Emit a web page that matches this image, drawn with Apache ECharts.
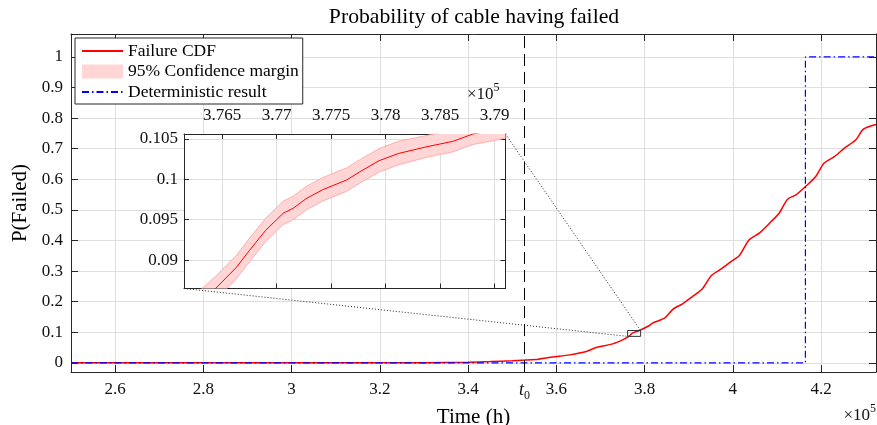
<!DOCTYPE html>
<html><head><meta charset="utf-8">
<script src="https://cdn.jsdelivr.net/npm/echarts@6/dist/echarts.min.js"></script>
<style>html,body{margin:0;padding:0;background:#fff}#c{width:877px;height:425px}</style>
</head><body><div id="c"></div>
<script>
// ---- data (time in hours) ----
const cdfTime = [250000, 300000, 330000, 340000, 345000, 350000, 352800, 356000, 359200, 363000, 366800, 369000, 372800, 375000, 376440, 377300, 378800, 381100, 381800, 384500, 386400, 388600, 390900, 393200, 395100, 397300, 399600, 401500, 403700, 406000, 408700, 410500, 412400, 414300, 416600, 418800, 420700, 423000, 425300, 427900, 429600, 432450];
const cdfValue = [0, 0, 0.0005, 0.002, 0.004, 0.007, 0.009, 0.012, 0.019, 0.026, 0.037, 0.050, 0.062, 0.075, 0.0865, 0.0976, 0.1056, 0.122, 0.130, 0.146, 0.175, 0.193, 0.217, 0.244, 0.285, 0.306, 0.331, 0.351, 0.402, 0.424, 0.462, 0.489, 0.535, 0.549, 0.578, 0.609, 0.653, 0.674, 0.702, 0.729, 0.764, 0.779];

const insetTime  = [376100, 376300, 376440, 376630, 376750, 376900, 377060, 377150, 377270, 377420, 377640, 377760, 377940, 378120, 378370, 378620, 378800, 379000, 379200];
const insetValue = [0.0830, 0.0848, 0.0865, 0.0891, 0.0912, 0.0937, 0.0958, 0.0964, 0.0976, 0.0987, 0.0999, 0.1009, 0.1023, 0.1032, 0.1040, 0.1047, 0.1056, 0.1061, 0.1067];
const insetLower = [0.0815, 0.0834, 0.0851, 0.0877, 0.0898, 0.0923, 0.0944, 0.0950, 0.0962, 0.0973, 0.0985, 0.0995, 0.1009, 0.1018, 0.1027, 0.1034, 0.1043, 0.1048, 0.1054];
const insetUpper = [0.0845, 0.0863, 0.0880, 0.0906, 0.0927, 0.0952, 0.0973, 0.0979, 0.0991, 0.1002, 0.1014, 0.1024, 0.1038, 0.1047, 0.1054, 0.1061, 0.1070, 0.1075, 0.1081];

const detTime  = [250000, 416450, 416450, 432450];
const detValue = [0, 0, 1, 1];
const t0 = 352800;

const mainXTicks = [260000, 280000, 300000, 320000, 340000, 360000, 380000, 400000, 420000];
const mainYTicks = [0, 0.1, 0.2, 0.3, 0.4, 0.5, 0.6, 0.7, 0.8, 0.9, 1];
const insetXTicks = [376500, 377000, 377500, 378000, 378500, 379000];
const insetYTicks = [0.09, 0.095, 0.1, 0.105];
const mainXRange = [250000, 432450];
const mainYRange = [-0.03, 1.075];
const insetXRange = [376150, 379100];
const insetYRange = [0.0865, 0.1056];

// ---- styling ----
const FONT = 'Liberation Serif';
const AX = '#262626';
const GRIDC = '#dedede';
const BAND = '#ffd5d5';
const BANDEDGE = '#ff9f9f';
const zip = (a, b) => a.map((v, i) => [v, b[i]]);
const num = (v, d) => String(parseFloat(v.toFixed(d)));

const chart = echarts.init(document.getElementById('c'), null, {renderer: 'canvas'});

const axLine = {show: true, onZero: false, lineStyle: {color: AX, width: 1}};
const tickStyle = {color: AX, width: 1};
const labStyle = {color: '#111', fontFamily: FONT, fontSize: 17};
const noSym = {color: 'rgba(0,0,0,0)', borderWidth: 0};
const sup = {a: {fontFamily: FONT, fontSize: 17, lineHeight: 17, verticalAlign: 'bottom', fill: '#111'},
             b: {fontFamily: FONT, fontSize: 12, lineHeight: 12, verticalAlign: 'bottom', fill: '#111', padding: [0, 0, 9, 0]}};

const option = {
  animation: false,
  backgroundColor: '#fff',
  title: {
    text: 'Probability of cable having failed',
    left: 469, top: 1, textAlign: 'center',
    textStyle: {fontFamily: FONT, fontSize: 21.7, fontWeight: 'normal', color: '#000'}
  },
  legend: {
    orient: 'vertical', left: 75, top: 38,
    padding: [4, 4, 3, 6], itemGap: 2.5, itemWidth: 41, itemHeight: 14,
    backgroundColor: '#fff', borderColor: AX, borderWidth: 1, borderRadius: 0,
    textStyle: {fontFamily: FONT, fontSize: 17.5, color: '#000', lineHeight: 18},
    data: [
      {name: 'Failure CDF', itemStyle: noSym},
      {name: '95% Confidence margin', icon: 'rect', itemStyle: {color: BAND}},
      {name: 'Deterministic result', itemStyle: noSym}
    ],
    selectedMode: false, z: 10
  },
  grid: [
    {left: 71, top: 34, right: 1, bottom: 53, show: false, containLabel: false, outerBoundsMode: 'none'},
    {left: 184, top: 134, width: 321.5, height: 154.5, show: true, backgroundColor: '#fff', borderWidth: 0, z: 3,
      containLabel: false, outerBoundsMode: 'none'}
  ],
  xAxis: [
    {gridIndex: 0, type: 'value', position: 'bottom', min: mainXRange[0], max: mainXRange[1],
      axisLine: axLine,
      axisTick: {inside: true, length: 7, lineStyle: tickStyle, customValues: mainXTicks.concat([t0])},
      axisLabel: {customValues: mainXTicks.concat([t0]), margin: 9, ...labStyle,
        formatter: v => (Math.abs(v - t0) < 1 ? '{i|t}{s|0}' : num(v / 1e5, 3)),
        rich: {i: {fontFamily: FONT, fontStyle: 'italic', fontSize: 18, lineHeight: 18, verticalAlign: 'top', color: '#111'},
               s: {fontFamily: FONT, fontSize: 12, lineHeight: 12, verticalAlign: 'top', color: '#111', padding: [9, 0, 0, 0]}}},
      splitLine: {show: false},
      name: 'Time (h)', nameLocation: 'middle', nameGap: 27,
      nameTextStyle: {fontFamily: FONT, fontSize: 21, color: '#000'}},
    {gridIndex: 0, type: 'value', position: 'top', min: mainXRange[0], max: mainXRange[1],
      axisLine: axLine,
      axisTick: {inside: true, length: 7, lineStyle: tickStyle, customValues: mainXTicks},
      axisLabel: {show: false, customValues: mainXTicks},
      splitLine: {show: true, lineStyle: {color: GRIDC, width: 1}}},
    {gridIndex: 1, type: 'value', position: 'top', min: insetXRange[0], max: insetXRange[1], z: 4,
      axisLine: axLine,
      axisTick: {inside: true, length: 5, lineStyle: tickStyle, customValues: insetXTicks},
      axisLabel: {customValues: insetXTicks, margin: 10, ...labStyle, formatter: v => num(v / 1e5, 4)},
      splitLine: {show: true, lineStyle: {color: GRIDC, width: 1}}},
    {gridIndex: 1, type: 'value', position: 'bottom', min: insetXRange[0], max: insetXRange[1], z: 4,
      axisLine: axLine,
      axisTick: {inside: true, length: 5, lineStyle: tickStyle, customValues: insetXTicks},
      axisLabel: {show: false, customValues: insetXTicks},
      splitLine: {show: false}}
  ],
  yAxis: [
    {gridIndex: 0, type: 'value', position: 'left', min: mainYRange[0], max: mainYRange[1],
      axisLine: axLine,
      axisTick: {inside: true, length: 7, lineStyle: tickStyle, customValues: mainYTicks},
      axisLabel: {customValues: mainYTicks, margin: 8, ...labStyle, formatter: v => num(v, 2)},
      splitLine: {show: true, lineStyle: {color: GRIDC, width: 1}},
      name: 'P(Failed)', nameLocation: 'middle', nameGap: 33,
      nameTextStyle: {fontFamily: FONT, fontSize: 21, color: '#000'}},
    {gridIndex: 0, type: 'value', position: 'right', min: mainYRange[0], max: mainYRange[1],
      axisLine: axLine,
      axisTick: {inside: true, length: 7, lineStyle: tickStyle, customValues: mainYTicks},
      axisLabel: {show: false, customValues: mainYTicks},
      splitLine: {show: false}},
    {gridIndex: 1, type: 'value', position: 'left', min: insetYRange[0], max: insetYRange[1], z: 4,
      axisLine: axLine,
      axisTick: {inside: true, length: 5, lineStyle: tickStyle, customValues: insetYTicks},
      axisLabel: {customValues: insetYTicks, margin: 6, ...labStyle, formatter: v => num(v, 4)},
      splitLine: {show: true, lineStyle: {color: GRIDC, width: 1}}},
    {gridIndex: 1, type: 'value', position: 'right', min: insetYRange[0], max: insetYRange[1], z: 4,
      axisLine: axLine,
      axisTick: {inside: true, length: 5, lineStyle: tickStyle, customValues: insetYTicks},
      axisLabel: {show: false, customValues: insetYTicks},
      splitLine: {show: false}}
  ],
  series: [
    {name: 'Failure CDF', type: 'line', xAxisIndex: 0, yAxisIndex: 0, z: 2,
      data: zip(cdfTime, cdfValue), symbol: 'none', smooth: 0.25,
      lineStyle: {color: '#ff0000', width: 1.5}, itemStyle: {color: '#ff0000'},
      markLine: {silent: true, symbol: ['none', 'none'], label: {show: false},
        lineStyle: {color: '#000', width: 1, type: [12, 6]}, data: [{xAxis: t0}]}},
    {name: 'Deterministic result', type: 'line', xAxisIndex: 0, yAxisIndex: 0, z: 3,
      data: zip(detTime, detValue), symbol: 'none',
      lineStyle: {color: '#0000ff', width: 1.2, type: [7, 3, 1.5, 3]}, itemStyle: {color: '#0000ff'}},
    {name: 'zoom box', type: 'line', xAxisIndex: 0, yAxisIndex: 0, z: 4, silent: true, symbol: 'none',
      data: [[insetXRange[0], insetYRange[0]], [insetXRange[1], insetYRange[0]], [insetXRange[1], insetYRange[1]], [insetXRange[0], insetYRange[1]], [insetXRange[0], insetYRange[0]]],
      lineStyle: {color: '#333', width: 1}},
    {name: '95% Confidence margin', type: 'custom', coordinateSystem: 'cartesian2d', xAxisIndex: 2, yAxisIndex: 2, z: 5, silent: true,
      data: insetTime.map((t, i) => [t, insetLower[i], insetUpper[i]]),
      encode: {x: 0, y: [1, 2]},
      itemStyle: {color: BAND},
      renderItem: (params, api) => {
        if (params.dataIndex !== 0) return null;
        const up = insetTime.map((t, i) => api.coord([t, insetUpper[i]]));
        const lo = insetTime.map((t, i) => api.coord([t, insetLower[i]])).reverse();
        const cs = params.coordSys;
        return {type: 'polygon', shape: {points: up.concat(lo)}, style: {fill: BAND, stroke: null},
          clipPath: {type: 'rect', shape: {x: cs.x, y: cs.y, width: cs.width, height: cs.height}}};
      }},
    {name: 'band lower', type: 'line', xAxisIndex: 2, yAxisIndex: 2, z: 6, symbol: 'none', silent: true,
      data: zip(insetTime, insetLower), lineStyle: {color: BANDEDGE, width: 0.8}},
    {name: 'band upper', type: 'line', xAxisIndex: 2, yAxisIndex: 2, z: 6, symbol: 'none', silent: true,
      data: zip(insetTime, insetUpper), lineStyle: {color: BANDEDGE, width: 0.8}},
    {name: 'Failure CDF', type: 'line', xAxisIndex: 2, yAxisIndex: 2, z: 7, symbol: 'none',
      data: zip(insetTime, insetValue), lineStyle: {color: '#ff0000', width: 1}}
  ],
  graphic: [
    {type: 'text', right: 1, top: 403, z: 10, style: {text: '{a|×10}{b|5}', rich: sup}},
    {type: 'text', left: 467, top: 82, z: 10, style: {text: '{a|×10}{b|5}', rich: sup}}
  ]
};
chart.setOption(option);

// connector lines between the inset corners and the zoom box corners
const pIBL = chart.convertToPixel({xAxisIndex: 2, yAxisIndex: 2}, [insetXRange[0], insetYRange[0]]);
const pITR = chart.convertToPixel({xAxisIndex: 2, yAxisIndex: 2}, [insetXRange[1], insetYRange[1]]);
const pMBL = chart.convertToPixel({xAxisIndex: 0, yAxisIndex: 0}, [insetXRange[0], insetYRange[0]]);
const pMTR = chart.convertToPixel({xAxisIndex: 0, yAxisIndex: 0}, [insetXRange[1], insetYRange[1]]);
const conn = (a, b) => ({type: 'line', z: 1, silent: true,
  shape: {x1: a[0], y1: a[1], x2: b[0], y2: b[1]},
  style: {stroke: '#222', lineWidth: 1, lineDash: [1, 2]}});
chart.setOption({graphic: option.graphic.concat([conn(pIBL, pMBL), conn(pITR, pMTR)])});
</script></body></html>
